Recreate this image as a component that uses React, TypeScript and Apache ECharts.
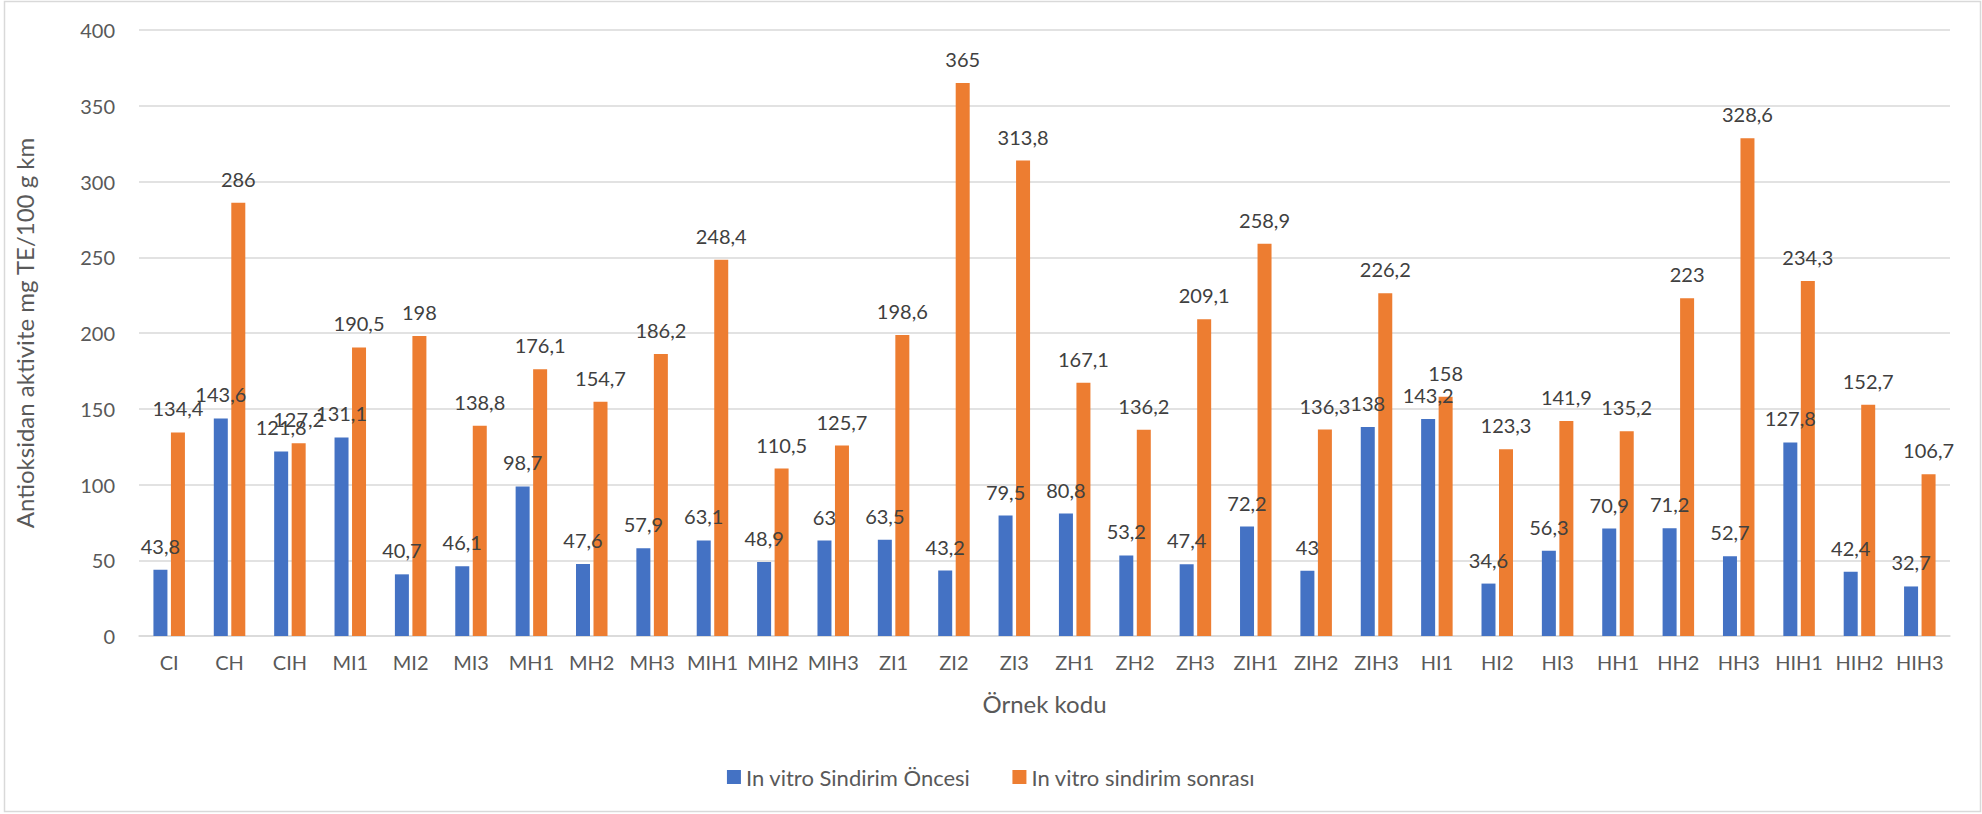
import React, { useEffect, useRef } from "react";
import * as echarts from "echarts";

// Sample codes on the category axis
const categories = [
  "CI", "CH", "CIH", "MI1", "MI2", "MI3", "MH1", "MH2", "MH3", "MIH1",
  "MIH2", "MIH3", "ZI1", "ZI2", "ZI3", "ZH1", "ZH2", "ZH3", "ZIH1", "ZIH2",
  "ZIH3", "HI1", "HI2", "HI3", "HH1", "HH2", "HH3", "HIH1", "HIH2", "HIH3",
];

// Antioxidant activity before in vitro digestion
const beforeDigestion = [
  43.8, 143.6, 121.8, 131.1, 40.7, 46.1, 98.7, 47.6, 57.9, 63.1,
  48.9, 63, 63.5, 43.2, 79.5, 80.8, 53.2, 47.4, 72.2, 43,
  138, 143.2, 34.6, 56.3, 70.9, 71.2, 52.7, 127.8, 42.4, 32.7,
];

// Antioxidant activity after in vitro digestion
const afterDigestion = [
  134.4, 286, 127.2, 190.5, 198, 138.8, 176.1, 154.7, 186.2, 248.4,
  110.5, 125.7, 198.6, 365, 313.8, 167.1, 136.2, 209.1, 258.9, 136.3,
  226.2, 158, 123.3, 141.9, 135.2, 223, 328.6, 234.3, 152.7, 106.7,
];

const seriesNames = ["In vitro Sindirim Öncesi", "In vitro sindirim sonrası"];
const yAxisTitle = "Antioksidan aktivite mg TE/100 g km";
const xAxisTitle = "Örnek kodu";

const FONT = "Lato, 'Open Sans', sans-serif";
const decimalComma = (v: number) => String(v).replace(".", ",");

export default function App() {
  const ref = useRef<HTMLDivElement>(null);

  useEffect(() => {
    if (!ref.current) return;
    const chart = echarts.init(ref.current, undefined, { renderer: "svg" });

    const barLabel = {
      show: true,
      position: "top" as const,
      distance: 14,
      color: "#404040",
      fontSize: 20,
      fontFamily: FONT,
      formatter: (p: any) => decimalComma(p.value),
    };

    chart.setOption({
      animation: false,
      backgroundColor: "#ffffff",
      textStyle: { fontFamily: FONT },
      grid: {
        left: 139,
        right: 32,
        top: 30,
        bottom: 178,
        containLabel: false,
        outerBoundsMode: "none",
      },
      legend: {
        data: seriesNames,
        left: "center",
        top: 761,
        itemWidth: 14,
        itemHeight: 14,
        itemGap: 42,
        icon: "rect",
        textStyle: { color: "#595959", fontSize: 22, fontFamily: FONT },
      },
      xAxis: {
        type: "category",
        data: categories,
        name: xAxisTitle,
        nameLocation: "middle",
        nameGap: 55,
        nameTextStyle: { color: "#595959", fontSize: 24, fontFamily: FONT },
        axisLine: { show: true, lineStyle: { color: "#d9d9d9", width: 1.5 } },
        axisTick: { show: false },
        axisLabel: {
          color: "#595959",
          fontSize: 20,
          fontFamily: FONT,
          margin: 16,
          interval: 0,
        },
      },
      yAxis: {
        type: "value",
        min: 0,
        max: 400,
        interval: 50,
        name: yAxisTitle,
        nameLocation: "middle",
        nameGap: 103,
        nameRotate: 90,
        nameTextStyle: { color: "#595959", fontSize: 24, fontFamily: FONT },
        axisLine: { show: false },
        axisTick: { show: false },
        axisLabel: {
          color: "#595959",
          fontSize: 20,
          fontFamily: FONT,
          margin: 24,
        },
        splitLine: { lineStyle: { color: "#d9d9d9", width: 1.5 } },
      },
      series: [
        {
          name: seriesNames[0],
          type: "bar",
          data: beforeDigestion,
          barWidth: 14,
          barGap: "25%",
          itemStyle: { color: "#4472c4" },
          label: barLabel,
        },
        {
          name: seriesNames[1],
          type: "bar",
          data: afterDigestion,
          barWidth: 14,
          barGap: "25%",
          itemStyle: { color: "#ed7d31" },
          label: barLabel,
        },
      ],
      graphic: [
        {
          type: "rect",
          silent: true,
          z: -1,
          shape: { x: 4.5, y: 1.5, width: 1976, height: 810 },
          style: { fill: "none", stroke: "#d9d9d9", lineWidth: 1.5 },
        },
      ],
    });

    return () => chart.dispose();
  }, []);

  return (
    <div
      ref={ref}
      style={{ position: "fixed", left: 0, top: 0, width: 1982, height: 814 }}
    />
  );
}
